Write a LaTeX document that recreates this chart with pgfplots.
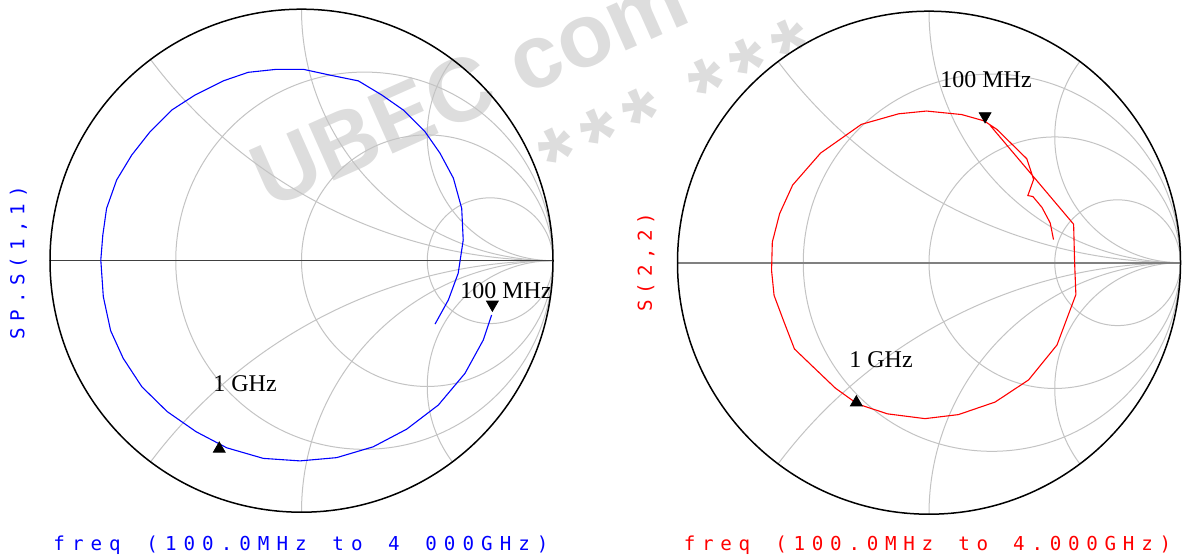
\documentclass[border=0pt]{standalone}
\usepackage{pgfplots}
\pgfplotsset{compat=1.18}
\usepackage{fontspec}
\setmainfont{Liberation Serif}
\newfontfamily\monofont{DejaVu Sans Mono}
\newfontfamily\wmfont{Liberation Sans}
\definecolor{gridc}{RGB}{195,195,195}
\definecolor{wm}{RGB}{221,221,221}
\definecolor{sblue}{RGB}{0,0,255}
\definecolor{sred}{RGB}{255,0,0}
\newlength\cw
\def\spaced#1{\spacedaux#1\relax}
\def\spacedaux#1{\ifx\relax#1\else\makebox[\cw]{#1}\expandafter\spacedaux\fi}

% Smith chart grid: r = 1/3, 1, 3 ; x = +-0.5, +-1, +-2 ; unit = 125.75pt
\newcommand{\smithgrid}[1]{%
  \begin{scope}
    \clip (axis cs:0,0) circle[radius=125.75pt];
    \draw[gridc, line width=0.5pt] (axis cs:0.25,0) circle[radius=94.3125pt];
    \draw[gridc, line width=0.5pt] (axis cs:0.5,0) circle[radius=62.875pt];
    \draw[gridc, line width=0.5pt] (axis cs:0.75,0) circle[radius=31.4375pt];
    \draw[gridc, line width=0.5pt] (axis cs:1,2) circle[radius=251.5pt];
    \draw[gridc, line width=0.5pt] (axis cs:1,-2) circle[radius=251.5pt];
    \draw[gridc, line width=0.5pt] (axis cs:1,1) circle[radius=125.75pt];
    \draw[gridc, line width=0.5pt] (axis cs:1,-1) circle[radius=125.75pt];
    \draw[gridc, line width=0.5pt] (axis cs:1,0.5) circle[radius=62.875pt];
    \draw[gridc, line width=0.5pt] (axis cs:1,-0.5) circle[radius=62.875pt];
  \end{scope}
  \draw[#1] (axis cs:-1,0) -- (axis cs:1,0);
  \draw[black, line width=0.75pt] (axis cs:0,0) circle[radius=125.75pt];
}

\pgfplotsset{smith/.style={
  scale only axis, width=251.5pt, height=251.5pt,
  xmin=-1, xmax=1, ymin=-1, ymax=1,
  hide axis, clip=false, anchor=south west}}

\begin{document}
\begin{tikzpicture}
% watermark
\node[rotate=24, anchor=base west, inner sep=0, text=wm,
      font=\wmfont\bfseries\fontsize{45pt}{45pt}\selectfont] at (134.4pt,174pt) {UBEC com};
\node[rotate=25, anchor=center, inner sep=0, text=wm,
      font=\wmfont\bfseries\fontsize{45pt}{45pt}\selectfont] at (339pt,227pt)
      {*\kern5.5pt*\kern5.5pt*\kern19pt*\kern5.5pt*\kern5.5pt*};

% ---------------- left chart: S(1,1)
\begin{axis}[smith, at={(25pt,22.9pt)}]
\smithgrid{black!75, line width=0.6pt}
\addplot[sblue, line width=0.55pt, no markers] coordinates {
(0.756,-0.216) (0.723,-0.315) (0.650,-0.448) (0.544,-0.574) (0.418,-0.670)
(0.285,-0.740) (0.140,-0.783) (-0.006,-0.796) (-0.152,-0.786) (-0.297,-0.744)
(-0.419,-0.680) (-0.534,-0.600) (-0.635,-0.501) (-0.709,-0.388) (-0.759,-0.278)
(-0.788,-0.143) (-0.798,0.003) (-0.790,0.102) (-0.775,0.208) (-0.735,0.321)
(-0.675,0.420) (-0.602,0.513) (-0.516,0.599) (-0.423,0.659) (-0.311,0.715)
(-0.212,0.749) (-0.099,0.761) (0.007,0.761) (0.113,0.738) (0.226,0.715)
(0.319,0.659) (0.405,0.599) (0.491,0.513) (0.551,0.427) (0.604,0.328)
(0.637,0.208) (0.643,0.082) (0.630,-0.004) (0.623,-0.050) (0.584,-0.156)
(0.531,-0.252)};
\addplot[only marks, mark=triangle*, mark size=3.4pt, mark options={black, fill=black, rotate=180}]
  coordinates {(0.759,-0.174)};
\addplot[only marks, mark=triangle*, mark size=3.4pt, mark options={black, fill=black}]
  coordinates {(-0.327,-0.748)};
\end{axis}

% ---------------- right chart: S(2,2)
\begin{axis}[smith, at={(338.75pt,21.9pt)}]
\smithgrid{black!50, line width=1pt}
\addplot[sred, line width=0.55pt, no markers] coordinates {
(0.243,0.546) (0.575,0.153) (0.579,0.000) (0.584,-0.127) (0.569,-0.167)
(0.509,-0.327) (0.396,-0.466) (0.263,-0.554) (0.117,-0.604) (-0.016,-0.620)
(-0.165,-0.601) (-0.284,-0.562) (-0.372,-0.499) (-0.461,-0.414) (-0.535,-0.343)
(-0.579,-0.229) (-0.616,-0.130) (-0.626,-0.031) (-0.623,0.082) (-0.594,0.195)
(-0.542,0.309) (-0.431,0.436) (-0.269,0.550) (-0.121,0.592) (-0.010,0.603)
(0.130,0.589) (0.219,0.564) (0.270,0.530) (0.389,0.413) (0.416,0.331)
(0.393,0.267) (0.413,0.263) (0.449,0.220) (0.482,0.158) (0.495,0.092)};
\addplot[only marks, mark=triangle*, mark size=3.4pt, mark options={black, fill=black, rotate=180}]
  coordinates {(0.223,0.583)};
\addplot[only marks, mark=triangle*, mark size=3.4pt, mark options={black, fill=black}]
  coordinates {(-0.289,-0.556)};
\end{axis}

% marker labels
\node[anchor=base west, inner sep=0, font=\fontsize{12pt}{12pt}\selectfont] at (230pt,130pt) {100 MHz};
\node[anchor=base west, inner sep=0, font=\fontsize{12pt}{12pt}\selectfont] at (106.5pt,83.5pt) {1 GHz};
\node[anchor=base west, inner sep=0, font=\fontsize{12pt}{12pt}\selectfont] at (470pt,235pt) {100 MHz};
\node[anchor=base west, inner sep=0, font=\fontsize{12pt}{12pt}\selectfont] at (424.5pt,95.5pt) {1 GHz};

% axis titles
\node[anchor=base, inner sep=0, text=sblue, font=\monofont\fontsize{9.6pt}{9.6pt}\selectfont]
  at (150.5pt,4pt) {\setlength\cw{9.3pt}\spaced{freq~(100.0MHz~to~4~000GHz)}};
\node[anchor=base, inner sep=0, text=sred, font=\monofont\fontsize{9.6pt}{9.6pt}\selectfont]
  at (463.75pt,4pt) {\setlength\cw{9.15pt}\spaced{freq~(100.0MHz~to~4.000GHz)}};
\node[rotate=90, anchor=center, inner sep=0, text=sblue, font=\monofont\fontsize{9.6pt}{9.6pt}\selectfont]
  at (9.2pt,147.75pt) {\setlength\cw{8.85pt}\spaced{SP.S(1,1)}};
\node[rotate=90, anchor=center, inner sep=0, text=sred, font=\monofont\fontsize{9.6pt}{9.6pt}\selectfont]
  at (323pt,148pt) {\setlength\cw{8.75pt}\spaced{S(2,2)}};

\pgfresetboundingbox
\useasboundingbox (0,0) rectangle (591.5pt,279pt);
\end{tikzpicture}
\end{document}
